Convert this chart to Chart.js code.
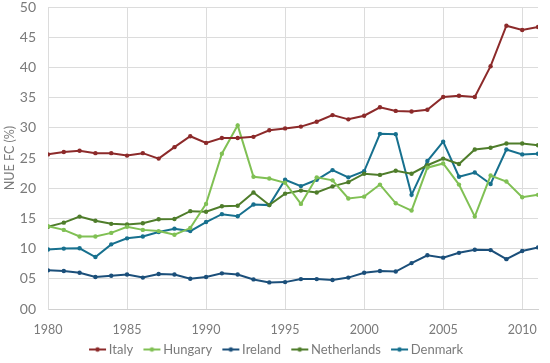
<!DOCTYPE html>
<html>
<head>
<meta charset="utf-8">
<script src="https://cdn.jsdelivr.net/npm/chart.js@4/dist/chart.umd.min.js"></script>
<style>
html,body{margin:0;padding:0;background:#fff;}
#wrap{width:550px;height:363px;position:relative;}
</style>
</head>
<body>
<div id="wrap"><canvas id="c" width="550" height="363"></canvas></div>
<script>
const years = [1980,1981,1982,1983,1984,1985,1986,1987,1988,1989,1990,1991,1992,1993,1994,1995,1996,1997,1998,1999,2000,2001,2002,2003,2004,2005,2006,2007,2008,2009,2010,2011];
const italy = [25.6,26.0,26.2,25.8,25.8,25.4,25.8,24.9,26.8,28.6,27.5,28.3,28.3,28.5,29.6,29.9,30.2,31.0,32.1,31.4,32.0,33.4,32.8,32.7,33.0,35.1,35.3,35.1,40.2,46.9,46.2,46.7];
const hungary = [13.7,13.1,12.0,12.0,12.6,13.6,13.1,12.9,12.3,13.4,17.4,25.7,30.4,21.9,21.6,20.9,17.4,21.8,21.3,18.3,18.6,20.6,17.5,16.3,23.4,24.1,20.6,15.3,22.1,21.1,18.5,18.9];
const ireland = [6.4,6.3,6.0,5.3,5.5,5.7,5.2,5.8,5.7,5.0,5.3,5.9,5.7,4.9,4.4,4.45,4.95,4.95,4.8,5.2,6.0,6.3,6.2,7.6,8.9,8.5,9.3,9.8,9.75,8.25,9.6,10.2];
const netherlands = [13.6,14.3,15.3,14.6,14.1,14.0,14.2,14.85,14.9,16.2,16.1,17.0,17.1,19.3,17.2,19.1,19.6,19.3,20.3,21.0,22.4,22.2,22.9,22.4,23.8,24.9,24.0,26.4,26.7,27.4,27.4,27.1];
const denmark = [9.85,10.0,10.05,8.6,10.7,11.7,12.0,12.75,13.3,12.9,14.4,15.7,15.35,17.3,17.2,21.4,20.35,21.4,23.0,21.8,22.8,29.0,28.95,18.9,24.5,27.7,21.9,22.6,20.7,26.4,25.6,25.7];
const seriesNames = ['Italy','Hungary','Ireland','Netherlands','Denmark'];
const yTicks = ['00','05','10','15','20','25','30','35','40','45','50'];
const xTicks = ['1980','1985','1990','1995','2000','2005','2010'];

const colors = ['#8c2a2a','#80c054','#1b4f7a','#4f7d2b','#17708e'];
const allData = [italy,hungary,ireland,netherlands,denmark];
const FONT = "Lato, 'Liberation Sans', sans-serif";
const TXT = '#7a7a7a';

function legendIcon(color){
  const cv = document.createElement('canvas');
  cv.width = 44; cv.height = 8;
  const g = cv.getContext('2d');
  g.strokeStyle = color; g.lineWidth = 2;
  g.beginPath(); g.moveTo(20,4); g.lineTo(37,4); g.stroke();
  g.fillStyle = color;
  g.beginPath(); g.arc(28.5,4,2.3,0,Math.PI*2); g.fill();
  return cv;
}

const datasets = seriesNames.map((n,i)=>({
  label:n,
  data: years.map((y,j)=>({x:y,y:allData[i][j]})),
  borderColor: colors[i],
  backgroundColor: colors[i],
  borderWidth: 2,
  pointRadius: 2.2,
  pointHoverRadius: 2.2,
  pointBackgroundColor: colors[i],
  pointBorderWidth: 0,
  tension: 0
}));

const shiftLegend = {
  id:'shiftLegend',
  afterLayout(chart){
    const l = chart.legend;
    if(l){ l.top += 3; l.bottom += 3; }
  }
};

new Chart(document.getElementById('c'),{
  type:'line',
  data:{datasets},
  plugins:[shiftLegend],
  options:{
    responsive:false,
    animation:false,
    layout:{padding:{left:2,right:9,top:7,bottom:0}},
    plugins:{
      tooltip:{enabled:false},
      legend:{
        position:'bottom',
        labels:{
          usePointStyle:true,
          pointStyleWidth:22.5,
          boxHeight:8,
          font:{family:FONT,size:13},
          color:TXT,
          padding:1,
          generateLabels:(chart)=>chart.data.datasets.map((d,i)=>({
            text:d.label,
            fillStyle:colors[i],
            strokeStyle:colors[i],
            pointStyle:legendIcon(colors[i]),
            hidden:false,
            datasetIndex:i,
            fontColor:TXT
          }))
        }
      }
    },
    scales:{
      x:{
        type:'linear',
        min:1980,max:2011,
        afterBuildTicks:(ax)=>{ax.ticks = xTicks.map(t=>({value:Number(t)}));},
        afterFit:(s)=>{s.height = 30;},
        ticks:{font:{family:FONT,size:12.5},color:TXT,callback:v=>String(v),padding:13,maxRotation:0},
        grid:{color:'#dcdcdc',drawTicks:false},
        border:{color:'#d0d0d0'}
      },
      y:{
        min:0,max:50,
        afterFit:(s)=>{s.width = 46; s.paddingTop = 0; s.paddingBottom = 0;},
        ticks:{stepSize:5,font:{family:FONT,size:14},color:TXT,callback:(v)=>yTicks[Math.round(v/5)],padding:12},
        grid:{color:'#dcdcdc',drawTicks:false},
        border:{color:'#dcdcdc'},
        title:{display:true,text:'NUE FC (%)',font:{family:FONT,size:12.5},color:TXT,padding:0}
      }
    }
  }
});
</script>
</body>
</html>
